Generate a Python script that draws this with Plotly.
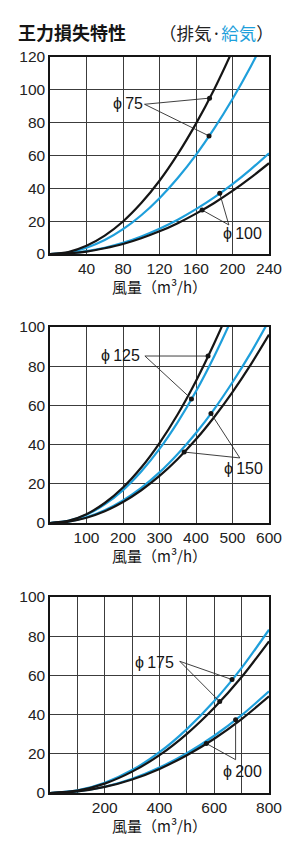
import numpy as np
import plotly.graph_objects as go

W, H = 300, 856
BLACK = "#151515"
BLUE = "#1e9fdb"
GRID = "#3c3c3c"
NUM_FONT = "Liberation Sans, Arial, sans-serif"
CJK_FONT = "Noto Sans CJK JP, sans-serif"

# ---------------- data ----------------
# chart 1 : phi75 / phi100, x 0-240 m3/h, y 0-120 Pa
x1 = [0, 20, 40, 60, 80, 100, 120, 140, 160, 180, 200, 220, 240]
p75_exh = [0, 1.2, 5.0, 11.2, 19.8, 31.0, 44.6, 60.8, 79.4, 100.4, 124.0, 150.0, 178.0]
p75_sup = [0, 0.9, 3.8, 8.5, 15.1, 23.6, 34.0, 46.3, 60.4, 76.5, 94.4, 114.2, 136.0]
p100_sup = [0, 0.4, 1.7, 3.8, 6.8, 10.7, 15.4, 20.9, 27.3, 34.5, 42.6, 51.6, 61.4]
p100_exh = [0, 0.4, 1.5, 3.5, 6.1, 9.6, 13.8, 18.8, 24.6, 31.1, 38.4, 46.5, 55.3]

# chart 2 : phi125 / phi150, x 0-600, y 0-100
x2 = [0, 50, 100, 150, 200, 250, 300, 350, 400, 450, 500, 550, 600]
p125_exh = [0, 1.1, 4.5, 10.2, 18.1, 28.3, 40.8, 55.5, 72.5, 91.7, 113.0, 137.0, 163.0]
p125_sup = [0, 1.05, 4.2, 9.5, 16.8, 26.3, 37.8, 51.5, 67.2, 85.1, 105.0, 127.0, 151.0]
p150_sup = [0, 0.7, 2.9, 6.5, 11.5, 17.9, 25.8, 35.2, 45.9, 58.1, 71.8, 86.8, 103.3]
p150_exh = [0, 0.7, 2.7, 6.0, 10.7, 16.7, 24.0, 32.7, 42.7, 54.1, 66.8, 80.8, 96.1]

# chart 3 : phi175 / phi200, x 0-800, y 0-100
x3 = [0, 100, 200, 300, 400, 500, 600, 700, 800]
p175_sup = [0, 1.3, 5.2, 11.7, 20.8, 32.6, 46.9, 63.8, 83.3]
p175_exh = [0, 1.2, 4.8, 10.9, 19.3, 30.2, 43.5, 59.2, 77.4]
p200_sup = [0, 0.8, 3.2, 7.3, 13.0, 20.3, 29.2, 39.7, 51.9]
p200_exh = [0, 0.8, 3.1, 6.9, 12.3, 19.3, 27.7, 37.7, 49.3]

# tick labels
x1_ticks = [40, 80, 120, 160, 200, 240]
x1_text = ["40", "80", "120", "160", "200", "240"]
y1_ticks = [0, 20, 40, 60, 80, 100, 120]
x2_ticks = [100, 200, 300, 400, 500, 600]
x2_text = ["100", "200", "300", "400", "500", "600"]
y23_ticks = [0, 20, 40, 60, 80, 100]
x3_ticks = [100, 200, 300, 400, 500, 600, 700, 800]
x3_text = ["", "200", "", "400", "", "600", "", "800"]

# callouts: (axis idx, label, label_xy, leader origin, [(dot_x, x_list, series), ...])
callouts = [
    (1, "ϕ\u200975", (85, 91.8), (103.6, 91.2), [(174.8, x1, p75_exh), (174.3, x1, p75_sup)]),
    (1, "ϕ\u2009100", (211, 12.2), (196, 17.7), [(186, x1, p100_sup), (166.7, x1, p100_exh)]),
    (2, "ϕ\u2009125", (194.5, 85.7), (260, 85.2), [(433, x2, p125_exh), (387.5, x2, p125_sup)]),
    (2, "ϕ\u2009150", (528.8, 27.6), (520, 33.2), [(441, x2, p150_sup), (367.5, x2, p150_exh)]),
    (3, "ϕ\u2009175", (383.5, 66.8), (474, 67.2), [(665, x3, p175_sup), (620, x3, p175_exh)]),
    (3, "ϕ\u2009200", (705, 11.2), (678, 17.0), [(678, x3, p200_sup), (571, x3, p200_exh)]),
]

# ---------------- layout geometry (pixels) ----------------
PX_L, PX_R = 50, 269
panels = {1: (57, 254), 2: (327, 523), 3: (597, 793)}


def ydom(top, bottom):
    return [1 - bottom / H, 1 - top / H]


fig = go.Figure()


def add_curves(ax, xs, series_list):
    xa = "x" if ax == 1 else f"x{ax}"
    ya = "y" if ax == 1 else f"y{ax}"
    for ys, color in series_list:
        fig.add_trace(go.Scatter(
            x=xs, y=ys, mode="lines", xaxis=xa, yaxis=ya,
            line=dict(color=color, width=2.2, shape="spline", smoothing=0.8),
            hoverinfo="skip", showlegend=False))


add_curves(1, x1, [(p75_sup, BLUE), (p100_sup, BLUE), (p75_exh, BLACK), (p100_exh, BLACK)])
add_curves(2, x2, [(p125_sup, BLUE), (p150_sup, BLUE), (p125_exh, BLACK), (p150_exh, BLACK)])
add_curves(3, x3, [(p175_sup, BLUE), (p200_sup, BLUE), (p175_exh, BLACK), (p200_exh, BLACK)])

annotations = []
for ax, label, (lx, ly), (ox, oy), dots in callouts:
    xa = "x" if ax == 1 else f"x{ax}"
    ya = "y" if ax == 1 else f"y{ax}"
    for dx, xs, ys in dots:
        dy = float(np.interp(dx, xs, ys))
        fig.add_trace(go.Scatter(
            x=[ox, dx], y=[oy, dy], mode="lines", xaxis=xa, yaxis=ya,
            line=dict(color="#2a2a2a", width=0.9),
            hoverinfo="skip", showlegend=False))
        fig.add_trace(go.Scatter(
            x=[dx], y=[dy], mode="markers", xaxis=xa, yaxis=ya,
            marker=dict(color=BLACK, size=5),
            hoverinfo="skip", showlegend=False))
    annotations.append(dict(
        x=lx, y=ly, xref=xa, yref=ya, text=label, showarrow=False,
        font=dict(family=NUM_FONT, size=16, color=BLACK),
        xanchor="center", yanchor="middle"))

axis_common = dict(
    showgrid=True, gridcolor=GRID, gridwidth=1,
    showline=True, linecolor=BLACK, linewidth=1.5, mirror=True,
    ticks="", zeroline=False, fixedrange=True,
    tickfont=dict(family=NUM_FONT, size=15.5, color="#222"),
)

layout = dict(
    width=W, height=H, margin=dict(l=0, r=0, t=0, b=0),
    paper_bgcolor="white", plot_bgcolor="white",
    template="none", showlegend=False,
)

xspecs = {
    1: ([0, 240], x1_ticks, x1_text),
    2: ([0, 600], x2_ticks, x2_text),
    3: ([0, 800], x3_ticks, x3_text),
}
yspecs = {
    1: ([0, 120], y1_ticks),
    2: ([0, 100], y23_ticks),
    3: ([0, 100], y23_ticks),
}

for ax in (1, 2, 3):
    xname = "xaxis" if ax == 1 else f"xaxis{ax}"
    yname = "yaxis" if ax == 1 else f"yaxis{ax}"
    yanchor = "y" if ax == 1 else f"y{ax}"
    xanchor = "x" if ax == 1 else f"x{ax}"
    top, bottom = panels[ax]
    xr, xt, xtt = xspecs[ax]
    yr, yt = yspecs[ax]
    layout[xname] = dict(axis_common, domain=[PX_L / W, PX_R / W], range=xr,
                         tickvals=xt, ticktext=xtt, anchor=yanchor, automargin=False)
    layout[yname] = dict(axis_common, domain=ydom(top, bottom), range=yr,
                         tickvals=yt, anchor=xanchor, automargin=False)
    # x axis title
    annotations.append(dict(
        x=(PX_L + PX_R) / 2 / W, y=1 - (bottom + 32) / H, xref="paper", yref="paper",
        text="風量（m³/h）", showarrow=False, xanchor="center", yanchor="middle",
        font=dict(family=CJK_FONT, size=15, color=BLACK)))

# main title
annotations.append(dict(
    x=16 / W, y=1 - 32 / H, xref="paper", yref="paper",
    text="<b>王力損失特性</b>", showarrow=False, xanchor="left", yanchor="middle",
    font=dict(family=CJK_FONT, size=18, color=BLACK)))
annotations.append(dict(
    x=157 / W, y=1 - 32 / H, xref="paper", yref="paper",
    text="（排気·<span style='color:%s'>給気</span>）" % BLUE,
    showarrow=False, xanchor="left", yanchor="middle",
    font=dict(family=CJK_FONT, size=17.5, color="#222")))

layout["annotations"] = annotations
fig.update_layout(**layout)
fig.write_html("out.html")
